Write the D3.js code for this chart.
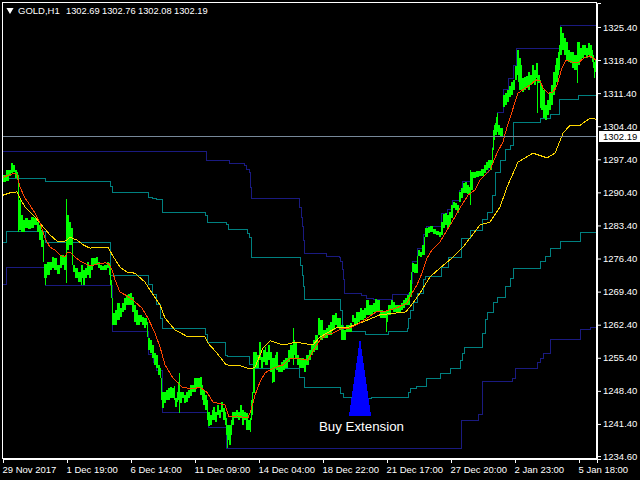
<!DOCTYPE html>
<html>
<head>
<meta charset="utf-8">
<script src="https://cdn.jsdelivr.net/npm/d3@7"></script>
<style>
  html, body { margin: 0; padding: 0; background: #000; overflow: hidden; }
  svg text { font-family: "Liberation Sans", sans-serif; font-size: 9.5px; fill: #fff; white-space: pre; }
</style>
</head>
<body>
<div id="chart"></div>
<script>
const symbolName = 'GOLD,H1';
const ohlcValues = ['1302.69', '1302.76', '1302.08', '1302.19'];
const bidPrice = 1302.19;
const priceTicks = [1325.4, 1318.4, 1311.4, 1304.4, 1297.4, 1290.4, 1283.4, 1276.4, 1269.4, 1262.4, 1255.4, 1248.4, 1241.4, 1234.6];
const timeTickBars = [0, 64, 128, 192, 256, 320, 384, 448, 512, 576];
const timeTickLabels = ['29 Nov 2017', '1 Dec 19:00', '6 Dec 14:00', '11 Dec 09:00', '14 Dec 04:00', '18 Dec 22:00', '21 Dec 17:00', '27 Dec 20:00', '2 Jan 23:00', '5 Jan 18:00'];

// [bar, high, low]
const priceBars = [
[0,1294.0,1292.6],[3,1295.1,1292.8],[6,1295.1,1293.9],[8,1296.6,1294.5],[10,1296.2,1294.7],[12,1295.1,1293.4],[14,1294.7,1293.0],[15,1293.8,1282.0],[16,1288.8,1282.4],[18,1285.6,1282.0],
[20,1284.6,1282.0],[22,1285.0,1282.9],[25,1284.6,1282.7],[28,1285.2,1282.9],[31,1285.0,1283.5],[34,1284.1,1282.0],[36,1283.5,1280.3],[38,1282.4,1278.8],[40,1280.3,1275.7],[41,1275.2,1272.3],
[44,1275.7,1272.9],[47,1275.7,1274.0],[49,1276.7,1274.4],[51,1276.5,1274.0],[54,1275.0,1273.1],[57,1277.1,1274.4],[59,1277.1,1275.0],[61,1276.7,1274.0],[63,1276.1,1272.9],[64,1285.6,1278.2],
[66,1284.1,1279.3],[68,1282.9,1279.3],[70,1275.0,1273.5],[72,1274.4,1272.3],[75,1273.5,1271.4],[78,1275.0,1272.3],[80,1274.0,1270.8],[82,1274.4,1272.3],[84,1275.7,1272.9],[86,1275.0,1272.3],
[88,1276.5,1274.0],[90,1276.5,1275.0],[93,1276.7,1275.0],[95,1275.7,1274.4],[97,1275.0,1274.0],[99,1274.8,1274.0],[101,1275.0,1274.0],[104,1275.7,1274.4],[106,1275.5,1272.9],[107,1275.0,1270.8],
[108,1271.9,1268.0],[109,1264.9,1262.3],[112,1265.5,1262.3],[114,1267.0,1263.4],[117,1265.9,1264.0],[119,1267.0,1265.1],[121,1268.0,1265.5],[123,1268.7,1266.6],[125,1268.9,1266.6],[127,1269.1,1266.6],
[129,1268.3,1265.1],[131,1266.6,1263.0],[133,1265.5,1262.3],[135,1264.5,1262.3],[137,1264.5,1263.0],[139,1264.0,1262.3],[141,1263.8,1261.7],[143,1263.8,1262.3],[144,1263.0,1259.8],[145,1259.6,1257.0],
[147,1259.2,1256.4],[149,1258.1,1255.3],[151,1256.4,1253.9],[153,1256.0,1253.2],[155,1253.9,1251.8],[157,1253.2,1251.1],[158,1251.1,1246.5],[159,1248.2,1244.8],[161,1248.2,1245.8],[163,1248.6,1246.5],
[165,1249.0,1246.5],[167,1249.2,1246.9],[169,1249.0,1246.9],[171,1249.4,1246.5],[172,1246.9,1245.0],[174,1248.2,1246.0],[175,1250.3,1246.5],[177,1248.2,1245.8],[179,1248.2,1246.9],[181,1247.5,1245.8],
[183,1248.2,1246.0],[185,1248.6,1246.9],[187,1249.6,1247.3],[189,1249.6,1248.2],[191,1251.1,1248.2],[193,1251.1,1249.0],[195,1251.1,1249.0],[197,1251.3,1247.5],[199,1249.6,1246.5],[200,1248.6,1245.4],
[202,1247.5,1244.3],[204,1246.5,1242.2],[205,1243.9,1240.9],[207,1243.3,1241.2],[209,1244.3,1242.2],[210,1245.0,1242.2],[212,1243.9,1241.8],[214,1245.4,1243.3],[216,1244.3,1242.7],[218,1246.0,1243.9],
[220,1244.8,1242.2],[222,1243.9,1241.2],[223,1242.7,1239.1],[224,1241.2,1238.0],[226,1241.2,1236.9],[228,1242.2,1239.1],[229,1243.9,1241.2],[231,1243.9,1242.7],[233,1244.3,1242.7],[235,1243.9,1242.2],
[237,1245.4,1242.7],[239,1244.3,1241.2],[241,1243.9,1242.2],[243,1243.7,1240.1],[245,1242.2,1240.1],[247,1242.7,1239.7],[248,1246.5,1242.2],[249,1248.2,1243.3],[250,1256.6,1248.0],[252,1256.6,1253.2],
[254,1256.0,1253.2],[256,1258.7,1254.9],[258,1255.6,1253.2],[260,1257.0,1254.5],[262,1257.7,1253.9],[263,1256.6,1253.9],[265,1258.1,1254.9],[267,1256.6,1252.4],[269,1255.3,1250.3],[272,1256.0,1253.2],
[273,1256.6,1252.8],[275,1253.9,1252.4],[278,1254.5,1252.4],[280,1254.9,1252.8],[282,1255.3,1253.2],[285,1257.0,1254.5],[287,1258.1,1255.3],[290,1259.2,1256.0],[292,1258.5,1255.3],[294,1256.0,1253.9],
[296,1255.3,1253.2],[298,1255.3,1253.2],[301,1254.9,1252.4],[303,1256.0,1253.9],[306,1257.0,1254.9],[308,1258.1,1256.0],[310,1259.2,1256.6],[312,1260.2,1257.0],[315,1263.8,1260.2],[317,1263.4,1259.2],
[320,1261.3,1259.6],[323,1261.7,1259.6],[325,1262.3,1260.2],[327,1263.0,1260.2],[329,1264.5,1261.3],[332,1264.9,1262.3],[334,1263.8,1261.7],[336,1263.8,1261.3],[338,1262.3,1259.2],[340,1261.3,1259.2],
[343,1262.3,1260.9],[347,1262.8,1260.9],[349,1264.5,1263.0],[351,1263.8,1262.1],[353,1265.1,1262.3],[355,1265.1,1263.0],[357,1265.9,1263.4],[359,1265.5,1263.4],[361,1265.9,1263.8],[363,1267.6,1264.5],
[366,1266.6,1264.5],[368,1266.6,1264.5],[370,1267.0,1265.1],[372,1267.8,1265.1],[374,1267.6,1265.1],[377,1265.5,1263.8],[380,1265.1,1263.8],[383,1265.5,1263.0],[385,1266.6,1264.5],[388,1267.6,1265.5],
[390,1267.2,1265.1],[392,1266.6,1265.1],[395,1266.6,1265.1],[398,1267.0,1265.5],[400,1267.6,1265.9],[402,1268.0,1266.6],[404,1268.7,1266.6],[406,1269.3,1266.6],[407,1271.9,1268.3],[409,1275.5,1273.5],
[411,1275.2,1273.3],[413,1275.2,1273.3],[415,1278.2,1276.9],[417,1277.8,1276.7],[419,1279.3,1277.1],[422,1282.9,1281.0],[425,1283.1,1281.8],[427,1283.3,1282.0],[430,1282.6,1281.6],[433,1282.2,1281.4],
[436,1282.0,1281.0],[438,1284.1,1281.4],[440,1285.8,1282.9],[442,1286.0,1283.5],[444,1285.6,1282.9],[446,1286.2,1283.5],[448,1287.7,1285.0],[450,1288.4,1287.1],[452,1288.2,1286.7],[454,1287.7,1286.0],
[456,1290.5,1288.4],[458,1291.3,1289.2],[460,1292.4,1290.3],[462,1292.6,1290.3],[464,1292.0,1290.1],[466,1291.5,1290.3],[468,1294.7,1290.9],[470,1294.7,1293.4],[473,1294.9,1293.6],[476,1294.9,1293.9],
[478,1295.3,1293.9],[481,1296.2,1294.5],[483,1296.8,1295.1],[485,1297.2,1295.5],[487,1297.2,1295.1],[489,1299.8,1296.2],[490,1303.6,1299.4],[491,1304.6,1301.5],[492,1305.1,1302.5],[493,1306.4,1302.5],
[494,1307.2,1303.2],[495,1304.6,1302.5],[497,1304.0,1302.3],[500,1311.0,1308.5],[502,1311.4,1308.9],[504,1312.1,1309.5],[506,1312.9,1310.6],[508,1313.8,1311.0],[510,1314.2,1312.1],[512,1317.1,1314.2],
[514,1320.5,1315.2],[515,1320.5,1313.8],[516,1318.8,1312.1],[518,1317.3,1312.1],[519,1314.6,1311.6],[521,1314.8,1312.1],[523,1315.0,1312.5],[525,1315.9,1312.1],[527,1315.2,1313.1],[529,1317.3,1313.8],
[531,1316.3,1313.1],[533,1317.8,1314.6],[535,1315.2,1313.5],[537,1314.2,1308.2],[538,1313.1,1307.8],[540,1312.1,1306.1],[542,1308.9,1305.7],[544,1309.9,1306.8],[546,1311.4,1307.8],[548,1313.1,1308.9],
[550,1315.9,1311.0],[552,1317.3,1312.1],[553,1318.8,1313.8],[555,1320.1,1315.2],[556,1321.6,1316.3],[557,1325.4,1319.5],[559,1324.1,1320.5],[561,1323.1,1319.5],[563,1322.2,1318.4],[565,1320.5,1318.0],
[567,1320.1,1317.8],[569,1320.1,1316.7],[571,1319.5,1316.3],[573,1319.5,1316.3],[575,1322.2,1317.3],[577,1321.0,1318.4],[579,1321.6,1318.8],[581,1321.6,1319.5],[583,1321.0,1318.8],[585,1322.0,1319.5],
[587,1321.6,1318.8],[589,1320.5,1318.0],[590,1319.5,1316.7],[591,1318.0,1314.6],[592,1318.4,1315.9],[593,1320.9,1315.9]
];
// thin wicks, [bar, high, low]
const priceWicks = [[15,1294.0,1282.0],[42,1275.2,1270.8],[63,1289.0,1271.2],[69,1279.7,1275.0],[78,1275.0,1270.8],[109,1268.0,1262.3],[176,1252.2,1243.7],[224,1241.2,1236.3],[269,1255.3,1250.0],[290,1261.7,1253.9],[383,1265.5,1260.9],[408,1273.5,1268.3],[414,1276.9,1273.3],[421,1281.0,1277.1],[467,1295.1,1287.7],[534,1317.0,1307.2],[574,1322.2,1313.5]];

// channel lines, [bar, price] where the level changes
const navyUpper = [[0,1299.1],[203,1297.2],[226,1296.6],[241,1296.0],[243,1295.3],[246,1294.5],[247,1291.5],[248,1289.0],[296,1287.3],[298,1285.0],[299,1283.1],[300,1280.3],[301,1277.4],[323,1276.9],[336,1276.7],[337,1275.7],[339,1274.0],[340,1271.9],[341,1269.1],[358,1268.5],[363,1268.0],[370,1267.8],[389,1268.7],[405,1269.1],[407,1271.2],[409,1275.7],[414,1278.6],[420,1281.4],[423,1283.1],[438,1286.0],[444,1286.7],[449,1288.6],[456,1290.9],[459,1292.6],[467,1294.7],[485,1297.2],[489,1299.8],[490,1302.1],[491,1304.6],[494,1307.2],[500,1312.1],[505,1314.6],[510,1317.3],[513,1320.9],[557,1325.8],[593,1325.8]];
const tealUpper = [[0,1292.6],[2,1293.4],[42,1292.6],[107,1291.7],[109,1290.3],[145,1289.4],[149,1289.0],[153,1288.8],[159,1286.2],[202,1285.4],[204,1284.1],[223,1283.5],[225,1282.6],[244,1281.8],[246,1280.9],[248,1276.7],[297,1275.0],[299,1272.9],[300,1270.4],[301,1267.8],[337,1265.5],[339,1262.3],[340,1260.9],[362,1260.4],[385,1260.9],[404,1261.5],[405,1263.8],[407,1265.5],[410,1267.0],[414,1269.1],[420,1271.9],[422,1272.7],[438,1274.6],[445,1276.7],[458,1280.7],[467,1282.4],[479,1284.6],[484,1286.2],[489,1289.8],[492,1294.5],[497,1297.2],[502,1299.4],[507,1300.4],[510,1305.1],[537,1306.1],[547,1306.8],[556,1310.1],[575,1311.0],[593,1311.0]];
const tealLower = [[0,1279.7],[3,1282.2],[42,1279.7],[107,1272.9],[145,1270.8],[149,1268.7],[153,1266.6],[157,1263.8],[159,1261.5],[202,1260.4],[204,1258.7],[222,1255.8],[224,1255.6],[246,1253.9],[250,1253.2],[296,1251.3],[301,1249.2],[337,1247.9],[340,1246.9],[355,1246.7],[368,1246.9],[405,1248.0],[407,1249.0],[413,1249.4],[423,1251.1],[437,1252.0],[447,1253.2],[457,1254.9],[459,1256.4],[461,1257.5],[479,1260.6],[482,1263.4],[484,1264.9],[490,1267.0],[494,1268.2],[502,1270.4],[507,1272.1],[510,1274.2],[537,1275.7],[542,1276.9],[547,1278.6],[557,1280.1],[577,1282.0],[593,1282.0]];
const navyLower = [[0,1270.8],[3,1274.4],[42,1270.6],[109,1260.9],[145,1256.0],[150,1254.5],[153,1252.8],[159,1243.9],[205,1240.7],[223,1236.3],[458,1242.2],[475,1243.3],[479,1250.3],[509,1251.1],[512,1253.2],[534,1254.5],[537,1255.3],[540,1256.4],[547,1259.2],[577,1261.3],[587,1261.9],[593,1261.9]];

// moving averages, [bar, price]
const fastAverage = [[0,1293.6],[12,1294.5],[14,1294.1],[17,1291.5],[22,1289.2],[27,1287.7],[32,1286.0],[37,1283.9],[42,1280.7],[47,1278.8],[52,1278.2],[57,1277.1],[62,1276.7],[64,1277.6],[67,1277.8],[72,1276.7],[77,1275.9],[85,1275.0],[89,1274.8],[93,1275.2],[102,1275.5],[106,1275.2],[109,1274.0],[112,1271.9],[117,1269.3],[124,1268.5],[130,1267.6],[139,1265.9],[145,1263.8],[152,1260.6],[157,1257.7],[162,1253.9],[170,1251.1],[179,1249.2],[190,1248.8],[197,1249.2],[204,1248.1],[210,1246.0],[215,1245.8],[222,1245.4],[226,1242.9],[235,1243.1],[242,1242.7],[245,1242.7],[248,1244.3],[252,1247.5],[257,1250.3],[262,1252.2],[267,1252.8],[273,1253.4],[280,1253.9],[287,1255.3],[293,1255.3],[305,1254.9],[312,1257.5],[317,1259.2],[323,1260.2],[330,1260.6],[338,1261.5],[347,1261.7],[357,1262.8],[367,1264.2],[373,1265.1],[383,1265.3],[393,1265.9],[404,1267.0],[409,1269.1],[414,1270.8],[419,1273.3],[424,1276.5],[429,1278.2],[437,1279.9],[444,1282.4],[449,1284.1],[457,1287.1],[465,1289.8],[472,1290.9],[477,1293.0],[487,1295.1],[494,1298.7],[500,1301.1],[504,1304.2],[507,1306.1],[512,1309.5],[515,1311.4],[527,1313.1],[533,1314.2],[537,1314.0],[540,1312.5],[545,1311.4],[550,1311.6],[554,1313.1],[559,1316.7],[563,1318.4],[569,1318.0],[575,1317.8],[581,1318.8],[587,1319.3],[590,1318.8],[593,1318.4]];
const slowAverage = [[0,1289.8],[7,1290.3],[14,1290.5],[17,1289.2],[22,1287.3],[27,1286.2],[32,1285.2],[40,1283.1],[47,1281.4],[54,1280.1],[60,1279.9],[64,1280.3],[67,1280.9],[74,1280.3],[80,1279.3],[87,1278.6],[92,1278.8],[105,1278.8],[110,1276.9],[117,1274.6],[124,1273.5],[132,1273.3],[142,1271.4],[149,1269.1],[157,1266.6],[162,1263.8],[172,1261.3],[185,1259.8],[202,1259.8],[205,1258.5],[214,1256.4],[223,1253.9],[237,1253.7],[247,1253.0],[252,1253.4],[260,1257.5],[267,1259.0],[280,1258.1],[293,1258.7],[310,1258.1],[317,1259.8],[333,1261.7],[343,1261.7],[360,1263.0],[377,1264.5],[403,1265.1],[410,1267.0],[417,1269.1],[427,1272.5],[437,1274.4],[450,1276.7],[460,1278.8],[477,1283.5],[487,1284.1],[497,1287.3],[504,1291.5],[515,1296.8],[530,1298.7],[544,1297.7],[552,1298.7],[560,1302.9],[567,1304.6],[577,1304.6],[587,1306.1],[593,1305.9]];

// Buy Extension marker
const arrowText = 'Buy Extension';
const arrowBar = 357;
const arrowHalfBars = 11;
const arrowTop = 1259.6;
const arrowBottom = 1243.1;
const arrowLabelPrice = 1239.9;

const width = 640, height = 480;
const margin = { top: 3, right: 43, bottom: 21, left: 3 };

const x = d3.scaleLinear().domain([0, 594]).range([margin.left, width - margin.right]);
const y = d3.scaleLinear().domain([1233.98, 1330.47]).range([height - margin.bottom, margin.top]);

const svg = d3.select('#chart').append('svg')
  .attr('width', width)
  .attr('height', height)
  .style('display', 'block');

svg.append('rect').attr('width', width).attr('height', height).attr('fill', '#000');

// channels go under the price
const stepLine = d3.line().x(d => x(d[0])).y(d => y(d[1])).curve(d3.curveStepAfter);
const smoothLine = d3.line().x(d => x(d[0])).y(d => y(d[1]));

[[navyUpper, '#1a1a80'], [navyLower, '#1a1a80'], [tealUpper, '#008080'], [tealLower, '#008080']].forEach(([rows, colour]) => {
  svg.append('path')
    .attr('d', stepLine(rows))
    .attr('fill', 'none')
    .attr('stroke', colour)
    .attr('stroke-width', 1)
    .attr('shape-rendering', 'crispEdges');
});

// price
svg.append('g').attr('shape-rendering', 'crispEdges').selectAll('rect')
  .data(priceBars)
  .enter().append('rect')
    .attr('x', d => x(d[0]))
    .attr('y', d => y(d[1]))
    .attr('width', (d, i) => i < priceBars.length - 1 ? x(priceBars[i + 1][0]) - x(d[0]) : 1)
    .attr('height', d => y(d[2]) - y(d[1]))
    .attr('fill', '#00ff00');

svg.append('g').attr('shape-rendering', 'crispEdges').selectAll('rect')
  .data(priceWicks)
  .enter().append('rect')
    .attr('x', d => x(d[0]))
    .attr('y', d => y(d[1]))
    .attr('width', 1)
    .attr('height', d => y(d[2]) - y(d[1]))
    .attr('fill', '#00ff00');

// averages
[[slowAverage, '#ffd700'], [fastAverage, '#ff4500']].forEach(([rows, colour]) => {
  svg.append('path')
    .attr('d', smoothLine(rows))
    .attr('fill', 'none')
    .attr('stroke', colour)
    .attr('stroke-width', 1)
    .attr('shape-rendering', 'crispEdges');
});

// marker
svg.append('path')
  .attr('d', d3.line()([
    [x(arrowBar), y(arrowTop)],
    [x(arrowBar + arrowHalfBars), y(arrowBottom)],
    [x(arrowBar - arrowHalfBars), y(arrowBottom)]
  ]) + 'Z')
  .attr('fill', '#0000ff')
  .attr('shape-rendering', 'crispEdges');

svg.append('text')
  .attr('x', x(arrowBar) + 1.5)
  .attr('y', y(arrowLabelPrice))
  .attr('text-anchor', 'middle')
  .style('font-size', '13.3px')
  .text(arrowText);

// bid line
const bidY = Math.floor(y(bidPrice));
svg.append('line')
  .attr('x1', margin.left)
  .attr('x2', width - margin.right)
  .attr('y1', bidY + 0.5)
  .attr('y2', bidY + 0.5)
  .attr('stroke', '#778899')
  .attr('stroke-width', 1);

// axes
const yAxis = d3.axisRight(y)
  .tickValues(priceTicks)
  .tickFormat(d3.format('.2f'))
  .tickSize(4)
  .tickPadding(2);

const xAxis = d3.axisBottom(x)
  .tickValues(timeTickBars)
  .tickFormat((d, i) => timeTickLabels[i])
  .tickSize(4)
  .tickPadding(3);

const yG = svg.append('g')
  .attr('transform', `translate(${width - margin.right},0)`)
  .call(yAxis);
yG.selectAll('path, line').attr('stroke', '#fff');

const xG = svg.append('g')
  .attr('transform', `translate(0,${height - margin.bottom})`)
  .call(xAxis);
xG.selectAll('path, line').attr('stroke', '#fff');
xG.selectAll('text').attr('text-anchor', 'start').attr('dx', -1);

// frame
svg.append('rect')
  .attr('x', margin.left - 0.5)
  .attr('y', margin.top - 0.5)
  .attr('width', width - margin.left - margin.right)
  .attr('height', height - margin.top - margin.bottom)
  .attr('fill', 'none')
  .attr('stroke', '#fff');

// bid label
svg.append('rect')
  .attr('x', width - margin.right + 2)
  .attr('y', bidY - 5)
  .attr('width', 41)
  .attr('height', 11)
  .attr('fill', '#fff');
svg.append('text')
  .attr('x', width - margin.right + 6)
  .attr('y', bidY + 4)
  .style('fill', '#000')
  .text(d3.format('.2f')(bidPrice));

// header
svg.append('path')
  .attr('d', d3.symbol().type(d3.symbolTriangle).size(22)())
  .attr('transform', 'translate(10,10) rotate(180)')
  .attr('fill', '#fff');
svg.append('text')
  .attr('x', 18)
  .attr('y', 14)
  .text(symbolName);
ohlcValues.forEach((v, i) => {
  svg.append('text')
    .attr('x', 66 + i * 36)
    .attr('y', 14)
    .style('font-size', '9.3px')
    .text(v);
});
</script>
</body>
</html>
